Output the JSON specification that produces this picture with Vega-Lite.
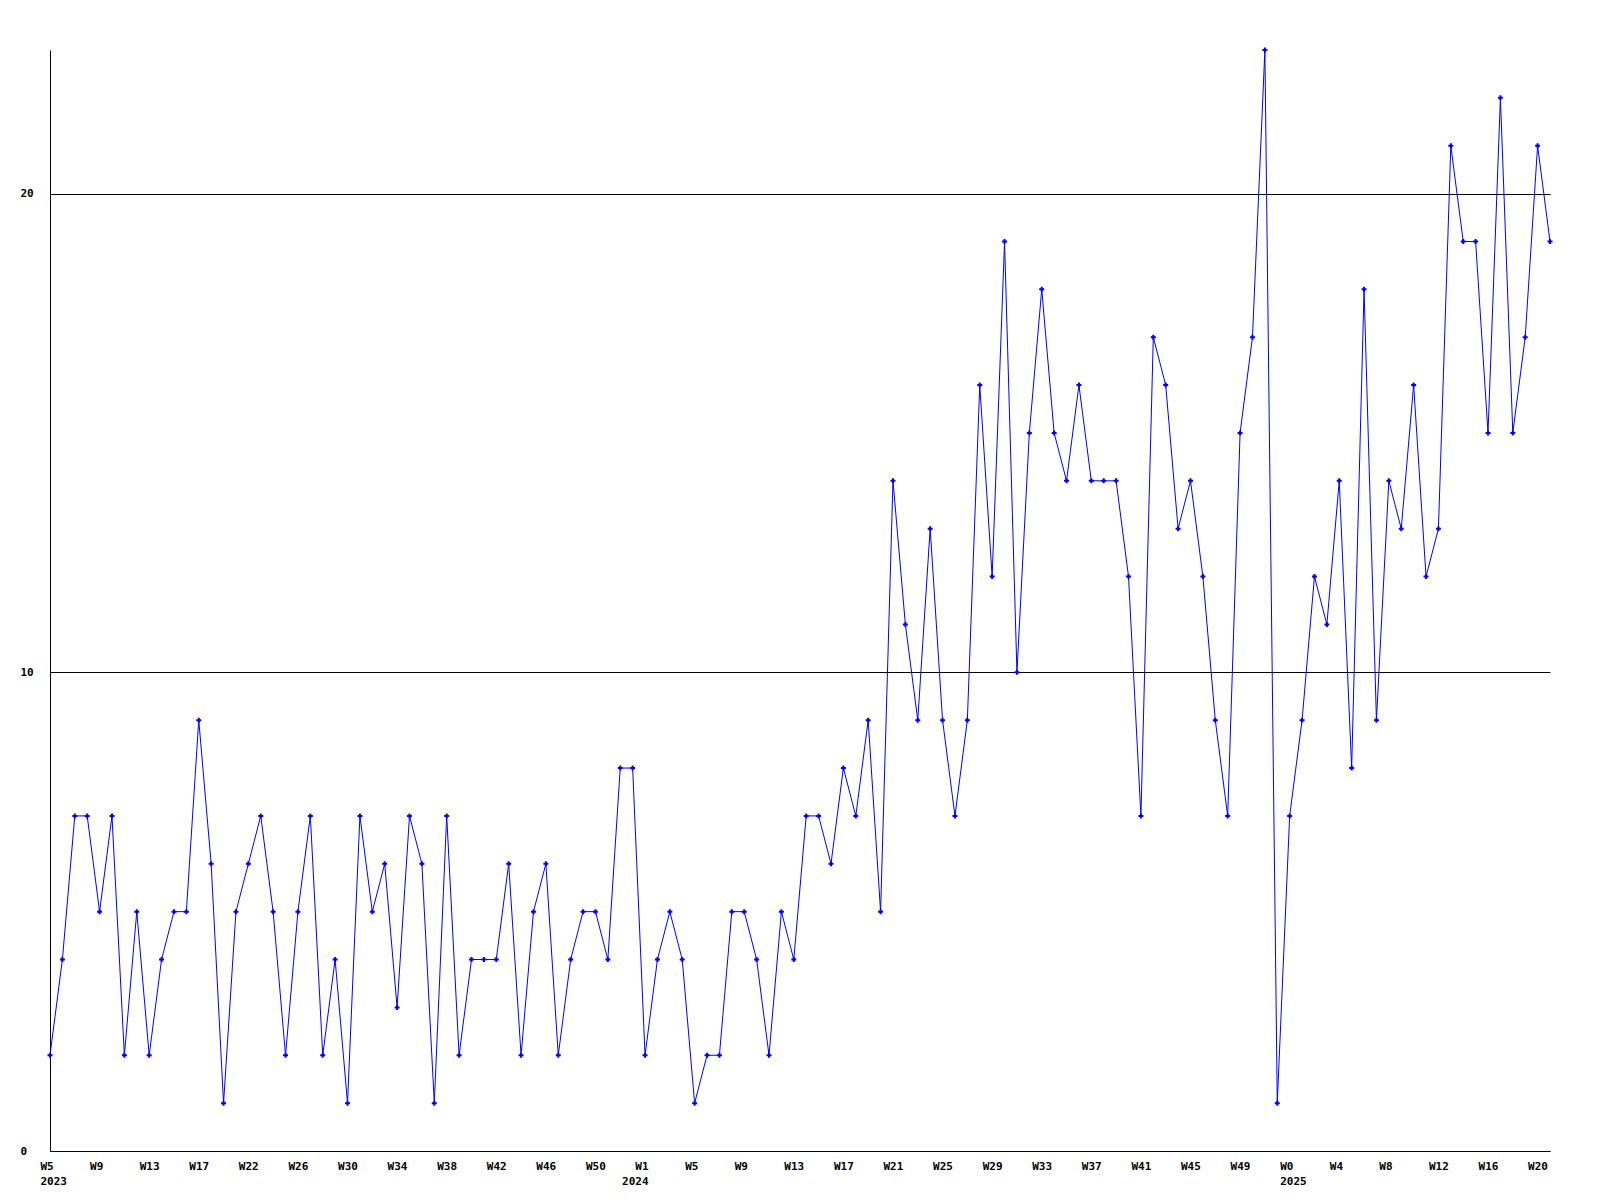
{
  "$schema": "https://vega.github.io/schema/vega-lite/v6.json",
  "autosize": {"type": "none"},
  "padding": {"left": 50, "top": 50, "right": 50, "bottom": 49},
  "width": 1500,
  "height": 1101,
  "background": "white",
  "config": {
    "view": {"stroke": null},
    "axis": {"labelFont": "DejaVu Sans Mono", "labelFontWeight": "bold", "labelFontSize": 11, "labelColor": "black", "domainColor": "black", "domainWidth": 1, "title": null}
  },
  "data": {
    "values": [
      {"i":0,"v":2},{"i":1,"v":4},{"i":2,"v":7},{"i":3,"v":7},{"i":4,"v":5},{"i":5,"v":7},{"i":6,"v":2},{"i":7,"v":5},{"i":8,"v":2},{"i":9,"v":4},
      {"i":10,"v":5},{"i":11,"v":5},{"i":12,"v":9},{"i":13,"v":6},{"i":14,"v":1},{"i":15,"v":5},{"i":16,"v":6},{"i":17,"v":7},{"i":18,"v":5},{"i":19,"v":2},
      {"i":20,"v":5},{"i":21,"v":7},{"i":22,"v":2},{"i":23,"v":4},{"i":24,"v":1},{"i":25,"v":7},{"i":26,"v":5},{"i":27,"v":6},{"i":28,"v":3},{"i":29,"v":7},
      {"i":30,"v":6},{"i":31,"v":1},{"i":32,"v":7},{"i":33,"v":2},{"i":34,"v":4},{"i":35,"v":4},{"i":36,"v":4},{"i":37,"v":6},{"i":38,"v":2},{"i":39,"v":5},
      {"i":40,"v":6},{"i":41,"v":2},{"i":42,"v":4},{"i":43,"v":5},{"i":44,"v":5},{"i":45,"v":4},{"i":46,"v":8},{"i":47,"v":8},{"i":48,"v":2},{"i":49,"v":4},
      {"i":50,"v":5},{"i":51,"v":4},{"i":52,"v":1},{"i":53,"v":2},{"i":54,"v":2},{"i":55,"v":5},{"i":56,"v":5},{"i":57,"v":4},{"i":58,"v":2},{"i":59,"v":5},
      {"i":60,"v":4},{"i":61,"v":7},{"i":62,"v":7},{"i":63,"v":6},{"i":64,"v":8},{"i":65,"v":7},{"i":66,"v":9},{"i":67,"v":5},{"i":68,"v":14},{"i":69,"v":11},
      {"i":70,"v":9},{"i":71,"v":13},{"i":72,"v":9},{"i":73,"v":7},{"i":74,"v":9},{"i":75,"v":16},{"i":76,"v":12},{"i":77,"v":19},{"i":78,"v":10},{"i":79,"v":15},
      {"i":80,"v":18},{"i":81,"v":15},{"i":82,"v":14},{"i":83,"v":16},{"i":84,"v":14},{"i":85,"v":14},{"i":86,"v":14},{"i":87,"v":12},{"i":88,"v":7},{"i":89,"v":17},
      {"i":90,"v":16},{"i":91,"v":13},{"i":92,"v":14},{"i":93,"v":12},{"i":94,"v":9},{"i":95,"v":7},{"i":96,"v":15},{"i":97,"v":17},{"i":98,"v":23},{"i":99,"v":1},
      {"i":100,"v":7},{"i":101,"v":9},{"i":102,"v":12},{"i":103,"v":11},{"i":104,"v":14},{"i":105,"v":8},{"i":106,"v":18},{"i":107,"v":9},{"i":108,"v":14},{"i":109,"v":13},
      {"i":110,"v":16},{"i":111,"v":12},{"i":112,"v":13},{"i":113,"v":21},{"i":114,"v":19},{"i":115,"v":19},{"i":116,"v":15},{"i":117,"v":22},{"i":118,"v":15},{"i":119,"v":17},
      {"i":120,"v":21},{"i":121,"v":19}
    ]
  },
  "encoding": {
    "x": {
      "field": "i", "type": "quantitative",
      "scale": {"domain": [0, 121], "nice": false, "zero": false},
      "axis": {
        "values": [0, 4, 8, 12, 16, 20, 24, 28, 32, 36, 40, 44, 48, 52, 56, 60, 64, 68, 72, 76, 80, 84, 88, 92, 96, 100, 104, 108, 112, 116, 120],
        "labelExpr": "split(['W5|2023','W9','W13','W17','W22','W26','W30','W34','W38','W42','W46','W50','W1|2024','W5','W9','W13','W17','W21','W25','W29','W33','W37','W41','W45','W49','W0|2025','W4','W8','W12','W16','W20'][round(datum.value/4)], '|')",
        "ticks": false, "tickSize": 0, "grid": false,
        "labelAlign": {"condition": {"test": "datum.value == 48", "value": "right"}, "value": "left"},
        "labelOffset": {"condition": {"test": "datum.value == 48", "value": 3}, "value": -10},
        "labelBaseline": "top", "labelPadding": 9, "labelLineHeight": 15,
        "labelOverlap": false, "labelFlush": false, "labelBound": false
      }
    },
    "y": {
      "field": "v", "type": "quantitative",
      "scale": {"domain": [0, 23], "nice": false},
      "axis": {
        "values": [0, 10, 20],
        "ticks": false, "tickSize": 0,
        "grid": true, "gridColor": "black", "gridWidth": 1, "gridOpacity": 1,
        "labelAlign": "left", "labelPadding": 30, "labelBaseline": "middle",
        "labelOverlap": false, "labelFlush": false, "labelBound": false
      }
    }
  },
  "layer": [
    {"mark": {"type": "line", "color": "#0000ff", "strokeWidth": 1}},
    {"mark": {"type": "point", "shape": "cross", "filled": true, "size": 25, "color": "#0000ff", "opacity": 1}}
  ]
}
